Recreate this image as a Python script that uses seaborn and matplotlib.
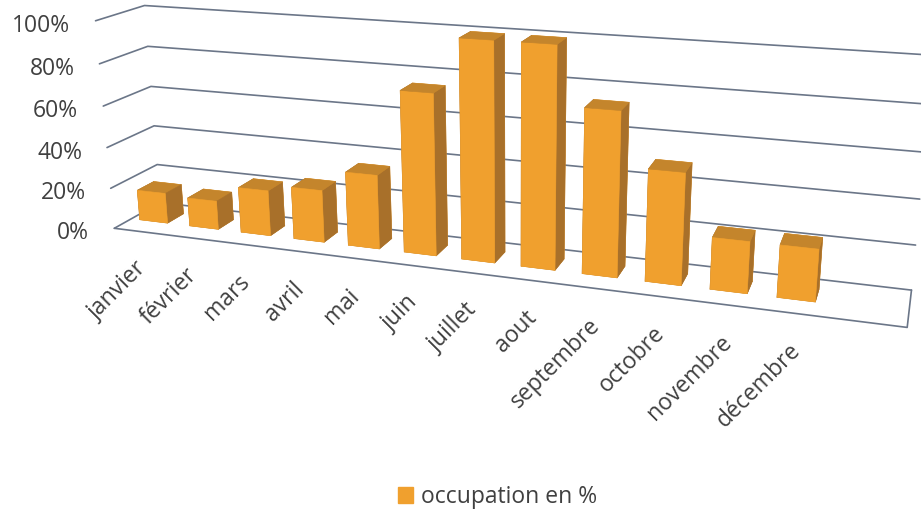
import numpy as np
import pandas as pd
import seaborn as sns
import matplotlib
matplotlib.use("Agg")
import matplotlib.pyplot as plt
from matplotlib.patches import Patch
from mpl_toolkits.mplot3d import proj3d

mois = ["janvier", "février", "mars", "avril", "mai", "juin", "juillet", "aout",
        "septembre", "octobre", "novembre", "décembre"]
occupation = [15, 14, 22, 25, 35, 75, 100, 100, 74, 50, 23, 23]
ticks_y = [0, 20, 40, 60, 80, 100]

sns.set_theme(style="white")
plt.rcParams["font.family"] = ["Open Sans", "DejaVu Sans"]

texte = "#404040"
ligne = "#6b7688"
face = "#f0a02e"
dessus = "#c4852c"
cote = "#a8702a"

df = pd.DataFrame({"mois": mois, "occupation": occupation})
df["pos"] = df.index + 0.45

W, H = 921, 509
S = 1000
fig = plt.figure(figsize=(W / 100, H / 100), dpi=100)
ax = fig.add_axes([-27.45 / W, -154.19 / H, S / W, S / H], projection="3d")
x_max = 13.05  # place vide a droite, comme sur l'original
ax.set_xlim(0, x_max, view_margin=0)
ax.set_ylim(0, 1, view_margin=0)
ax.set_zlim(0, 100, view_margin=0)
ax.view_init(16.59, -70.69, 0.36)
ax.set_proj_type("persp", focal_length=0.248)
ax.set_box_aspect((3.608, 0.397, 1), zoom=0.84)
ax.set_axis_off()
ax.computed_zorder = False


def note(x, y, z, txt, dx, dy, **kw):
    # Text3D ignore la rotation, donc annotation 2D au point projete
    xs, ys, _ = proj3d.proj_transform(x, y, z, ax.get_proj())
    ax.annotate(txt, (xs, ys), xytext=(dx, dy), textcoords="offset pixels",
                fontsize=16.5, color=texte, **kw)


# grille : mur gauche + mur du fond
for z in ticks_y:
    ax.plot([0, 0, x_max], [0, 1, 1], [z, z, z], color=ligne, lw=1.2, zorder=1)
    note(0, 0, z, f"{z}%", -25, -5, ha="right", va="center")
# sol
ax.plot([0, x_max, x_max], [0, 0, 1], [0, 0, 0], color=ligne, lw=1.2, zorder=1)

# barres
larg = 0.56
couleurs = [dessus, dessus, face, face, cote, cote] * len(df)
ax.bar3d(df["pos"] - larg / 2, np.full(12, 0.36), np.zeros(12), larg, 0.36, df["occupation"],
         color=couleurs, edgecolor=couleurs, linewidth=0.4, shade=False, zorder=2)

for _, r in df.iterrows():
    note(r["pos"], 0, 0, r["mois"], -3, -26, rotation=45, rotation_mode="anchor",
         ha="right", va="top")

fig.legend(handles=[Patch(color=face, label="occupation en %")], loc="center",
           bbox_to_anchor=(498 / W, 1 - 497 / H), frameon=False, fontsize=16.5,
           labelcolor=texte, handlelength=0.65, handleheight=0.65, handletextpad=0.35)

fig.savefig("out.png", dpi=100)
